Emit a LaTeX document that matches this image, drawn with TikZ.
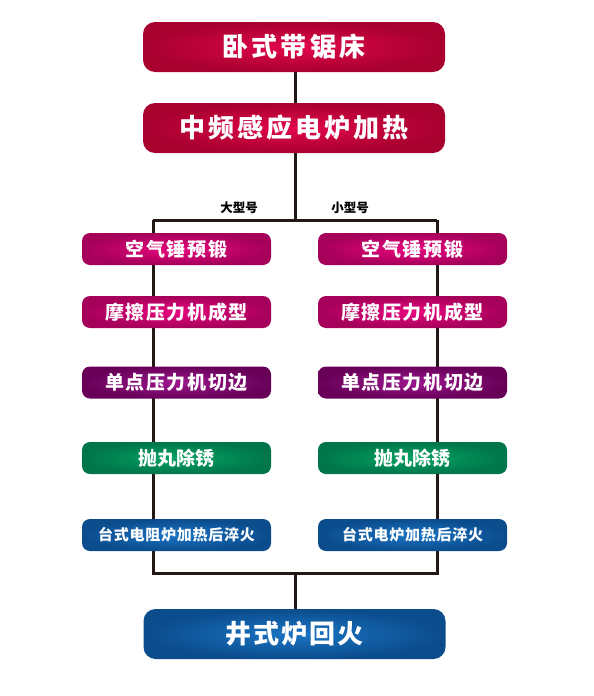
\documentclass[tikz,border=0pt]{standalone}
\usepackage{fontspec}
\newfontfamily\cjk{Noto Sans CJK SC}
\newfontfamily\cjkwide{Noto Sans CJK SC}[LetterSpace=12]
\newfontfamily\cjkmid{Noto Sans CJK SC}[LetterSpace=8]
\newfontfamily\cjknarrow{Noto Sans CJK SC}[LetterSpace=5]
\definecolor{lineC}{HTML}{231815}
\definecolor{redIn}{HTML}{E2074C}
\definecolor{redOut}{HTML}{A8002F}
\definecolor{pinkIn}{HTML}{E8067E}
\definecolor{pinkOut}{HTML}{A5005A}
\definecolor{purIn}{HTML}{9C168E}
\definecolor{purOut}{HTML}{680058}
\definecolor{grnIn}{HTML}{05A263}
\definecolor{grnOut}{HTML}{00764A}
\definecolor{bluIn}{HTML}{1A74C4}
\definecolor{bluOut}{HTML}{0B4C8C}
\begin{document}
\begin{tikzpicture}[x=1pt,y=-1pt,
  bigbox/.style={rounded corners=12pt, minimum width=302pt, minimum height=50pt, inner sep=0pt,
     text=white, font=\cjkwide\bfseries\fontsize{26}{26}\selectfont},
  colbox/.style={rounded corners=8pt, minimum width=189pt, minimum height=32pt, inner sep=0pt,
     text=white, font=\cjkmid\bfseries\fontsize{19}{19}\selectfont},
  redsh/.style={shading=radial, inner color=redIn, outer color=redOut},
  pinksh/.style={shading=radial, inner color=pinkIn, outer color=pinkOut},
  pursh/.style={shading=radial, inner color=purIn, outer color=purOut},
  grnsh/.style={shading=radial, inner color=grnIn, outer color=grnOut},
  blush/.style={shading=radial, inner color=bluIn, outer color=bluOut},
  conn/.style={draw=lineC, line width=3pt},
  lbl/.style={font=\cjk\bfseries\fontsize{12.5}{12.5}\selectfont, text=black, inner sep=0pt}
]
\useasboundingbox (0,0) rectangle (594,696);
% coordinates
\coordinate (tl) at (153,220);
\coordinate (tm) at (295,220);
\coordinate (tr) at (437,220);
\coordinate (bl) at (153,573);
\coordinate (bm) at (295,573);
\coordinate (br) at (437,573);
% connectors (drawn first)
\draw[conn] (295,47) -- (tm);
\draw[conn] (tl) -- (tr);
\draw[conn] (tl) -- (bl) -- (br) -- (tr);
\draw[conn] (bm) -- (295,634);
% boxes
\node[bigbox, redsh] (a) at (294,47) {卧式带锯床};
\node[bigbox, redsh] (b) at (294,128) {中频感应电炉加热};
\node[lbl] (lbA) at (239,208) {大型号};
\node[lbl] (lbB) at (350,208) {小型号};
\node[colbox, pinksh] (l1) at (176.5,249) {空气锤预锻};
\node[colbox, pinksh] (r1) at (412.5,249) {空气锤预锻};
\node[colbox, pinksh] (l2) at (176.5,312) {摩擦压力机成型};
\node[colbox, pinksh] (r2) at (412.5,312) {摩擦压力机成型};
\node[colbox, pursh] (l3) at (176.5,382.5) {单点压力机切边};
\node[colbox, pursh] (r3) at (412.5,382.5) {单点压力机切边};
\node[colbox, grnsh, font=\cjk\bfseries\fontsize{19}{19}\selectfont] (l4) at (176.5,458) {抛丸除锈};
\node[colbox, grnsh, font=\cjk\bfseries\fontsize{19}{19}\selectfont] (r4) at (412.5,458) {抛丸除锈};
\node[colbox, blush, font=\cjknarrow\bfseries\fontsize{15}{15}\selectfont] (l5) at (176.5,535) {台式电阻炉加热后淬火};
\node[colbox, blush, font=\cjknarrow\bfseries\fontsize{15}{15}\selectfont] (r5) at (412.5,535) {台式电炉加热后淬火};
\node[bigbox, blush, font=\cjkmid\bfseries\fontsize{26}{26}\selectfont] (c) at (294.5,634) {井式炉回火};
\end{tikzpicture}
\end{document}
